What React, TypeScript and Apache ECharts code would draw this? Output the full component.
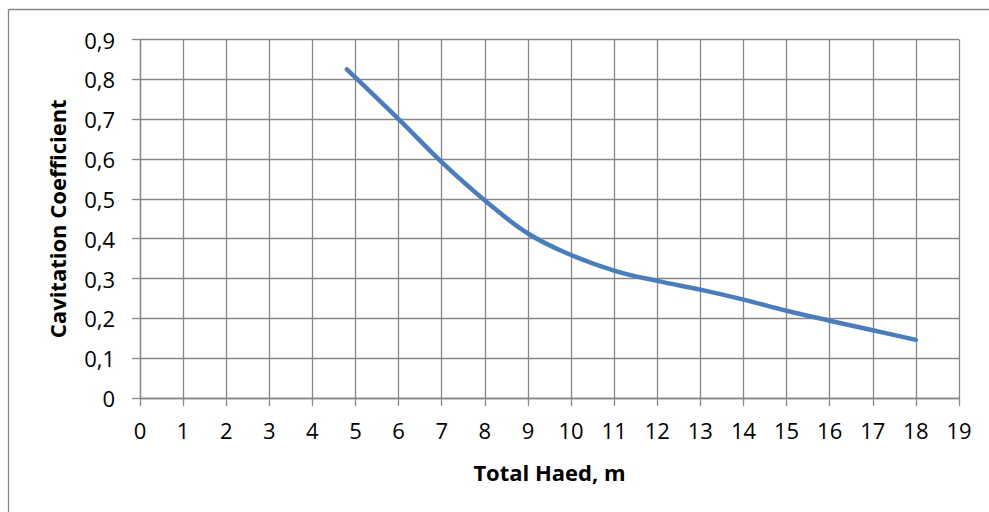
import React, { useEffect, useRef } from "react";
import * as echarts from "echarts";

const xValues = [4.8, 6, 7, 8, 9, 10, 11, 12, 13, 14, 15, 16, 17, 18];
const yValues = [0.825, 0.7, 0.592, 0.496, 0.413, 0.359, 0.32, 0.294, 0.272, 0.247, 0.219, 0.194, 0.17, 0.146];
const xTitle = "Total Haed, m";
const yTitle = "Cavitation Coefficient";

const FONT = "'Open Sans', sans-serif";
const GRID_COLOR = "#878787";

export default function App() {
  const ref = useRef<HTMLDivElement>(null);
  useEffect(() => {
    if (!ref.current) return;
    const chart = echarts.init(ref.current, null, { renderer: "svg" });
    chart.setOption({
      animation: false,
      backgroundColor: "#ffffff",
      grid: { left: 140, right: 30, top: 39.5, bottom: 114, containLabel: false },
      graphic: [
        { type: "line", shape: { x1: 8.5, y1: 9.5, x2: 989, y2: 9.5 }, style: { stroke: "#868686", lineWidth: 1.3 } },
        { type: "line", shape: { x1: 8.5, y1: 9.5, x2: 8.5, y2: 512 }, style: { stroke: "#868686", lineWidth: 1.3 } },
      ],
      xAxis: {
        type: "value",
        min: 0,
        max: 19,
        interval: 1,
        name: xTitle,
        nameLocation: "middle",
        nameGap: 63,
        nameTextStyle: { fontFamily: FONT, fontWeight: "bold", fontSize: 22, color: "#000" },
        axisLine: { show: true, lineStyle: { color: GRID_COLOR, width: 1.3 } },
        axisTick: { show: true, length: 8, lineStyle: { color: GRID_COLOR, width: 1.3 } },
        axisLabel: { fontFamily: FONT, fontSize: 22, color: "#000", margin: 21 },
        splitLine: { show: true, lineStyle: { color: GRID_COLOR, width: 1.3 } },
      },
      yAxis: {
        type: "value",
        min: 0,
        max: 0.9,
        interval: 0.1,
        name: yTitle,
        nameLocation: "middle",
        nameGap: 72,
        nameRotate: 90,
        nameTextStyle: { fontFamily: FONT, fontWeight: "bold", fontSize: 22, color: "#000" },
        axisLine: { show: true, lineStyle: { color: GRID_COLOR, width: 1.3 } },
        axisTick: { show: true, length: 8, lineStyle: { color: GRID_COLOR, width: 1.3 } },
        axisLabel: {
          fontFamily: FONT,
          fontSize: 22,
          color: "#000",
          margin: 25,
          formatter: (v: number) => (v === 0 ? "0" : v.toFixed(1).replace(".", ",")),
        },
        splitLine: { show: true, lineStyle: { color: GRID_COLOR, width: 1.3 } },
      },
      series: [
        {
          type: "line",
          data: xValues.map((x, i) => [x, yValues[i]]),
          smooth: 0.4,
          showSymbol: false,
          symbol: "none",
          lineStyle: { color: "#4a7ebb", width: 4.5, cap: "round", join: "round" },
        },
      ],
    });
    return () => chart.dispose();
  }, []);
  return (
    <div
      ref={ref}
      style={{ position: "fixed", left: 0, top: 0, width: 989, height: 512, background: "#fff" }}
    />
  );
}
